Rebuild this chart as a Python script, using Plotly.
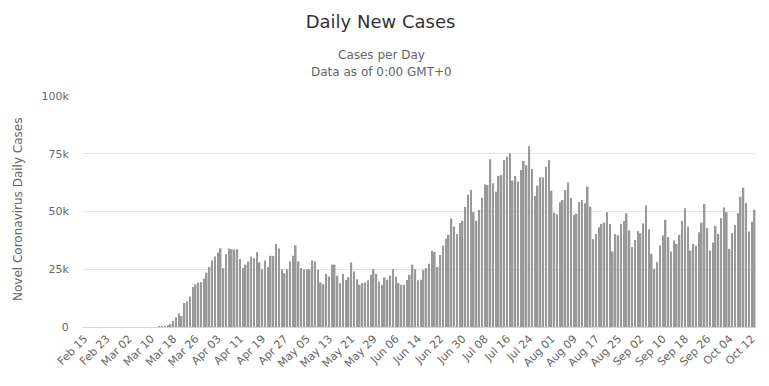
import pandas as pd
import plotly.graph_objects as go

start_date = "2020-02-15"

feb = [0, 0, 0, 0, 0, 0, 0, 0, 0, 0, 0, 0, 0, 0, 0]
mar = [0, 0, 0, 0, 0, 0, 0, 0, 0, 0, 0, 0, 300, 400, 400,
       600, 1300, 2700, 4200, 5800, 4700, 10400, 11100, 13200, 17300,
       18500, 19200, 19400, 21000, 23500, 26000]
apr = [28800, 30500, 32200, 34100, 25500, 31500, 34000, 33700, 33500, 33700,
       29400, 25500, 27000, 28400, 30500, 29800, 32400, 28000, 25000, 28800,
       26000, 30800, 30800, 35900, 34000, 25000, 23300, 25000, 28400, 30800]
may = [35400, 28400, 25500, 25000, 25000, 25000, 28800, 28400, 24800, 19300,
       18500, 23000, 21900, 27000, 27000, 22200, 19000, 22900, 20400, 21600,
       28000, 24000, 20700, 18300, 19000, 19300, 20200, 22600, 25000, 23000,
       19700]
jun = [18300, 21500, 20500, 22300, 25000, 21900, 19000, 18300, 18300, 20300,
       22600, 27000, 25000, 20200, 20500, 24800, 25500, 27400, 33000, 32500,
       26000, 31200, 35300, 38200, 39900, 47000, 43500, 40300, 45000, 46000]
jul = [52000, 57200, 59300, 49700, 46000, 50700, 56000, 61800, 61500, 72600,
       62200, 58600, 65400, 65800, 72300, 73700, 75200, 63400, 65400, 62900,
       68000, 71900, 70000, 78300, 68400, 56700, 61200, 64800, 64800, 69400,
       72300]
aug = [59000, 49500, 48800, 54000, 55000, 59300, 62600, 56000, 48500, 49100,
       54100, 55000, 53600, 60800, 52100, 38000, 40300, 43200, 44600, 45200,
       49700, 44600, 32700, 40200, 39700, 44600, 45900, 49200, 41800, 34600,
       37700]
sep = [41600, 40600, 44900, 52600, 42300, 31700, 25200, 28100, 35300, 39600,
       46400, 38900, 32700, 37400, 36000, 39900, 45900, 51400, 43500, 33100,
       36000, 35100, 41000, 45200, 53300, 42800, 33100, 36600, 43800, 40300]
oct_ = [47100, 51700, 49700, 33800, 40600, 44200, 49200, 56400, 60300, 53600,
        41300, 45600, 50700]

daily_cases = feb + mar + apr + may + jun + jul + aug + sep + oct_
dates = pd.date_range(start_date, periods=len(daily_cases)).strftime("%b %d").tolist()
tick_labels = dates[::8]

y_ticks = [0, 25000, 50000, 75000, 100000]
y_tick_labels = ["0", "25k", "50k", "75k", "100k"]

FONT = "DejaVu Sans, Verdana, sans-serif"
W, H = 761, 378          # page adds an 8px body margin
L, R, T, B = 75, 13, 88, 59
PW = W - L - R
PH = H - T - B


def px_x(x):
    return (x - L) / PW


def px_y(y):
    return 1 - (y - T) / PH


fig = go.Figure(go.Bar(x=dates, y=daily_cases, marker_color="#999999",
                       marker_line_width=0, name="Daily Cases"))

fig.update_layout(
    width=W, height=H,
    margin=dict(l=L, r=R, t=T, b=B),
    paper_bgcolor="white", plot_bgcolor="white",
    font=dict(family=FONT, color="#666666", size=11),
    bargap=0.42,
    showlegend=False,
    title=dict(text="Daily New Cases", xref="container", yref="container",
               x=372.5 / W, y=1 - 13.5 / H, yanchor="middle", xanchor="center",
               font=dict(size=18, color="#333333", family=FONT)),
)

fig.add_annotation(text="Cases per Day", xref="paper", yref="paper",
                   x=px_x(373), y=px_y(47), showarrow=False,
                   font=dict(size=12, color="#666666", family=FONT),
                   xanchor="center", yanchor="middle")
fig.add_annotation(text="Data as of 0:00 GMT+0", xref="paper", yref="paper",
                   x=px_x(373), y=px_y(63.5), showarrow=False,
                   font=dict(size=12, color="#666666", family=FONT),
                   xanchor="center", yanchor="middle")
fig.add_annotation(text="Novel Coronavirus Daily Cases", xref="paper", yref="paper",
                   x=px_x(10), y=px_y(202), showarrow=False, textangle=-90,
                   font=dict(size=12, color="#666666", family=FONT),
                   xanchor="center", yanchor="middle")

fig.update_xaxes(type="category", tickmode="array", tickvals=tick_labels,
                 ticktext=tick_labels, tickangle=-45, showgrid=False,
                 showline=True, linecolor="#ccd6eb", linewidth=1,
                 ticks="", tickfont=dict(size=11, color="#666666"))
fig.update_yaxes(range=[0, 100000], tickmode="array", tickvals=y_ticks,
                 ticktext=y_tick_labels, showgrid=True, gridcolor="#e6e6e6",
                 gridwidth=1, zeroline=False, ticks="outside", ticklen=11,
                 tickcolor="rgba(0,0,0,0)", tickfont=dict(size=11, color="#666666"))

fig.write_html("out.html")
